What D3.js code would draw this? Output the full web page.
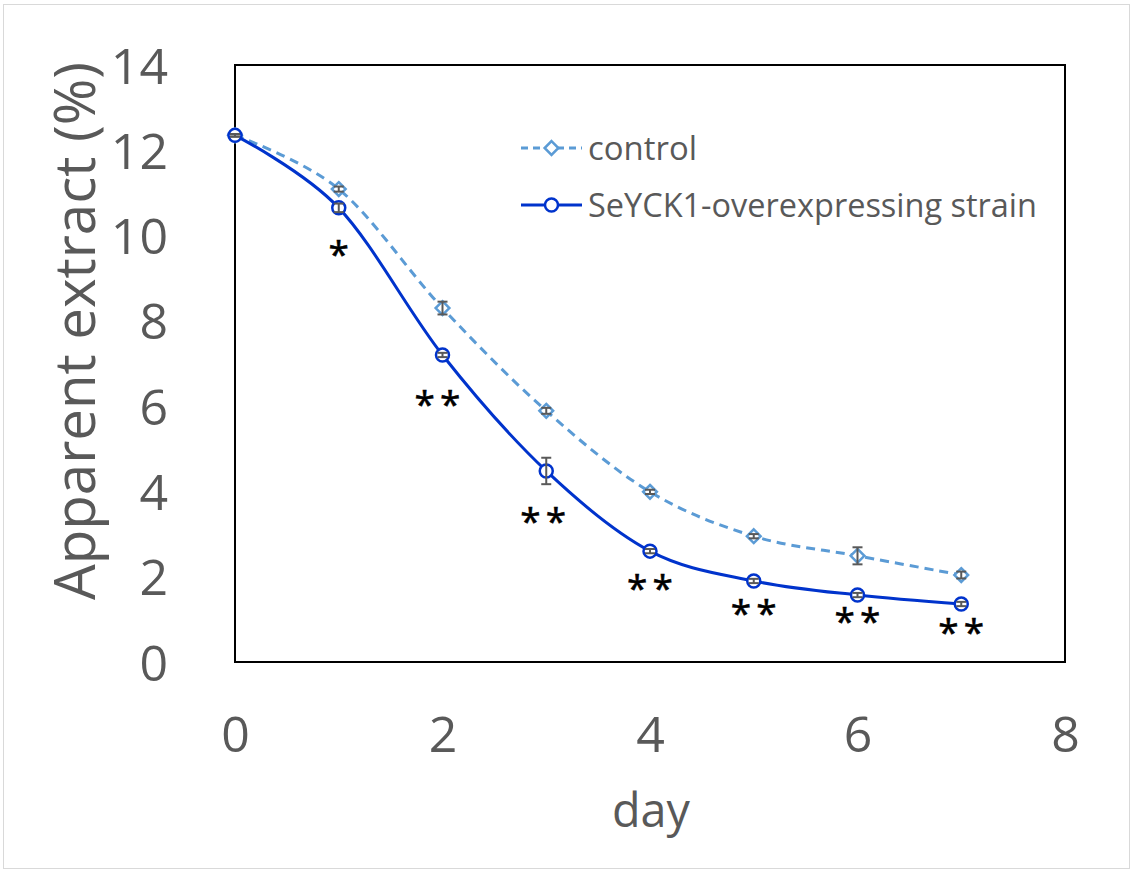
<!DOCTYPE html>
<html>
<head>
<meta charset="utf-8">
<script src="https://cdn.jsdelivr.net/npm/d3@7"></script>
<style>
  body { margin: 0; background: #fff; }
  svg { display: block; }
  text { font-family: "Open Sans", "Noto Sans", sans-serif; }
</style>
</head>
<body>
<svg id="chart" width="1132" height="871"></svg>
<script>
// ---- data ----
const days = [0, 1, 2, 3, 4, 5, 6, 7];
const controlValues = [12.35, 11.09, 8.30, 5.89, 3.99, 2.95, 2.49, 2.04];
const controlErrors = [0.03, 0.06, 0.15, 0.07, 0.05, 0.05, 0.20, 0.08];
const seyckValues = [12.35, 10.65, 7.20, 4.48, 2.60, 1.90, 1.57, 1.36];
const seyckErrors = [0.03, 0.10, 0.05, 0.31, 0.05, 0.05, 0.05, 0.05];
const sigLabels = ["", "*", "**", "**", "**", "**", "**", "**"];
const sigLabelLevel = [null, 9.71, 6.19, 3.45, 1.88, 1.29, 1.10, 0.84];
const xTicks = [0, 2, 4, 6, 8];
const yTicks = [0, 2, 4, 6, 8, 10, 12, 14];
const seriesNames = ["control", "SeYCK1-overexpressing strain"];

// ---- layout ----
const svg = d3.select("#chart");
const plot = { left: 235, top: 65, right: 1065, bottom: 662 };
const x = d3.scaleLinear().domain([0, 8]).range([plot.left, plot.right]);
const y = d3.scaleLinear().domain([0, 14]).range([plot.bottom, plot.top]);

const gray = "#595959";
const ctrlColor = "#5B9BD5";
const seyColor = "#0033CC";

// outer border
svg.append("rect").attr("x", 3.5).attr("y", 4.5).attr("width", 1126).attr("height", 864)
  .attr("fill", "none").attr("stroke", "#d9d9d9").attr("stroke-width", 1);

function fitText(sel, target) {
  const node = sel.node();
  const fs = parseFloat(sel.attr("font-size"));
  const w = node.getComputedTextLength();
  sel.attr("font-size", (fs * target / w).toFixed(2));
}

// y axis tick labels
const yAxis = d3.axisLeft(y).tickValues(yTicks).tickSize(0).tickPadding(67);
const gy = svg.append("g").attr("transform", `translate(${plot.left},0)`).call(yAxis);
gy.select(".domain").remove();
gy.selectAll("text").attr("font-size", 50).attr("fill", gray)
  .attr("font-family", '"Open Sans", sans-serif').attr("dy", "0.36em");

// x axis tick labels
const xAxis = d3.axisBottom(x).tickValues(xTicks).tickSize(0).tickPadding(0);
const gx = svg.append("g").attr("transform", `translate(0,${plot.bottom})`).call(xAxis);
gx.select(".domain").remove();
gx.selectAll("text").attr("font-size", 50).attr("fill", gray)
  .attr("font-family", '"Open Sans", sans-serif').attr("dy", null).attr("y", 90);

// axis titles
const yTitle = svg.append("text").attr("transform", "translate(95,331) rotate(-90)")
  .attr("text-anchor", "middle").attr("font-size", 50).attr("fill", gray)
  .text("Apparent extract (%)");
fitText(yTitle, 538);

const xTitle = svg.append("text").attr("x", 651).attr("y", 827)
  .attr("text-anchor", "middle").attr("font-size", 50).attr("fill", gray).text("day");
fitText(xTitle, 78);

// plot frame
svg.append("rect").attr("x", plot.left).attr("y", plot.top)
  .attr("width", plot.right - plot.left).attr("height", plot.bottom - plot.top)
  .attr("fill", "none").attr("stroke", "#000").attr("stroke-width", 2);

// lines (Excel-style smoothing)
const line = d3.line().x((d, i) => x(days[i])).y(d => y(d)).curve(d3.curveCardinal.tension(0));
svg.append("path").datum(controlValues).attr("d", line).attr("fill", "none")
  .attr("stroke", ctrlColor).attr("stroke-width", 3).attr("stroke-dasharray", "9,6");
svg.append("path").datum(seyckValues).attr("d", line).attr("fill", "none")
  .attr("stroke", seyColor).attr("stroke-width", 3);

// markers
const diamond = d3.symbol().type(d3.symbolDiamond2).size(120);
svg.append("g").selectAll("path").data(controlValues).join("path")
  .attr("d", diamond)
  .attr("transform", (d, i) => `translate(${x(days[i])},${y(d)})`)
  .attr("fill", "#fff").attr("stroke", ctrlColor).attr("stroke-width", 2.5);
svg.append("g").selectAll("circle").data(seyckValues).join("circle")
  .attr("cx", (d, i) => x(days[i])).attr("cy", d => y(d)).attr("r", 6.5)
  .attr("fill", "#fff").attr("stroke", seyColor).attr("stroke-width", 2.5);

// error bars
function errorBars(vals, errs) {
  const g = svg.append("g").attr("stroke", gray).attr("stroke-width", 2);
  vals.forEach((v, i) => {
    const cx = x(days[i]);
    const y1 = y(v + errs[i]), y2 = y(v - errs[i]);
    g.append("line").attr("x1", cx).attr("x2", cx).attr("y1", y1).attr("y2", y2);
    g.append("line").attr("x1", cx - 5).attr("x2", cx + 5).attr("y1", y1).attr("y2", y1);
    g.append("line").attr("x1", cx - 5).attr("x2", cx + 5).attr("y1", y2).attr("y2", y2);
  });
}
errorBars(controlValues, controlErrors);
errorBars(seyckValues, seyckErrors);

// significance labels
sigLabels.forEach((s, i) => {
  if (!s) return;
  const ls = s.length > 1 ? 5 : 0;
  svg.append("text")
    .attr("x", x(days[i]) + ls / 2 + (i === 2 ? -5 : 0) + (i === 3 ? -3 : 0))
    .attr("y", y(sigLabelLevel[i]) + 19)
    .attr("text-anchor", "middle")
    .attr("font-family", '"DejaVu Sans", sans-serif')
    .attr("font-size", 37)
    .attr("letter-spacing", ls)
    .attr("stroke", "#000").attr("stroke-width", 0.6)
    .attr("fill", "#000").text(s);
});

// legend
const legend = svg.append("g");
const legendRows = [
  { name: seriesNames[0], y: 148, color: ctrlColor, dash: "7,5", type: "diamond", w: 109 },
  { name: seriesNames[1], y: 205, color: seyColor, dash: null, type: "circle", w: 449 }
];
legendRows.forEach(r => {
  legend.append("line").attr("x1", 521).attr("x2", 582).attr("y1", r.y).attr("y2", r.y)
    .attr("stroke", r.color).attr("stroke-width", 3).attr("stroke-dasharray", r.dash);
  if (r.type === "diamond") {
    legend.append("path").attr("d", diamond).attr("transform", `translate(551.5,${r.y})`)
      .attr("fill", "#fff").attr("stroke", r.color).attr("stroke-width", 2.5);
  } else {
    legend.append("circle").attr("cx", 551.5).attr("cy", r.y).attr("r", 6.5)
      .attr("fill", "#fff").attr("stroke", r.color).attr("stroke-width", 2.5);
  }
  const t = legend.append("text").attr("x", 588).attr("y", r.y).attr("dy", "0.36em")
    .attr("font-size", 32).attr("fill", gray).text(r.name);
  fitText(t, r.w);
});
</script>
</body>
</html>
